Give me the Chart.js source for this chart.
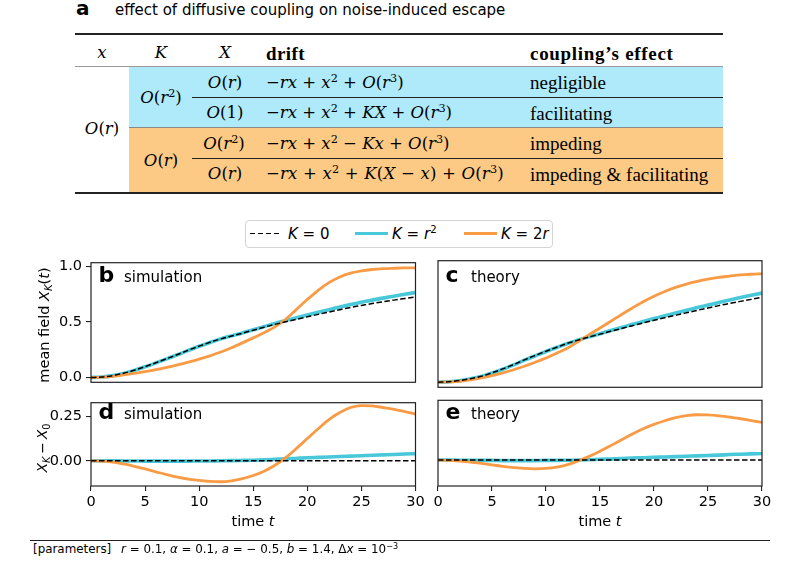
<!DOCTYPE html>
<html>
<head>
<meta charset="utf-8">
<script src="https://cdn.jsdelivr.net/npm/chart.js@4.4.1/dist/chart.umd.min.js"></script>
<style>
  html,body{margin:0;padding:0;background:#fff;}
  #fig{position:relative;width:798px;height:570px;overflow:hidden;background:#fff;}
  canvas{position:absolute;}
  .t{position:absolute;white-space:nowrap;line-height:1;color:#000;}
  .l{transform:translateY(-50%);}
  .c{transform:translate(-50%,-50%);}
  .sans{font-family:"DejaVu Sans",sans-serif;}
  .rm{font-family:"Liberation Serif",serif;font-size:19px;}
  .m{font-family:"DejaVu Serif",serif;font-size:16.5px;}
  sup{font-size:0.68em;vertical-align:0.5em;line-height:0;}
  sub{font-size:0.7em;vertical-align:-0.28em;line-height:0;}
  .rule{position:absolute;}
  .rot{transform:translate(-50%,-50%) rotate(-90deg);}
</style>
</head>
<body>
<div id="fig">
  <!-- panel a : table -->
  <div class="t sans" style="left:76px;top:-2px;font-size:20px;font-weight:bold;">a</div>
  <div class="t sans" style="left:115px;top:2.5px;font-size:15px;">effect of diffusive coupling on noise-induced escape</div>

  <div class="rule" style="left:129px;top:67px;width:594px;height:61px;background:#aeeaf9;"></div>
  <div class="rule" style="left:129px;top:128px;width:594px;height:64px;background:#fdca86;"></div>
  <div class="rule" style="left:75px;top:33.3px;width:648px;height:2px;background:#222;"></div>
  <div class="rule" style="left:75px;top:66px;width:648px;height:1.3px;background:#999;"></div>
  <div class="rule" style="left:192px;top:97.2px;width:531px;height:1px;background:#222;"></div>
  <div class="rule" style="left:129px;top:127.3px;width:594px;height:1px;background:#888;"></div>
  <div class="rule" style="left:192px;top:157.8px;width:531px;height:1px;background:#222;"></div>
  <div class="rule" style="left:75px;top:191.5px;width:648px;height:2px;background:#222;"></div>

  <div class="t c m" style="left:102px;top:53px;"><i>x</i></div>
  <div class="t c m" style="left:161px;top:53px;"><i>K</i></div>
  <div class="t c m" style="left:225px;top:53px;"><i>X</i></div>
  <div class="t l rm" style="left:266px;top:53px;font-weight:bold;letter-spacing:0.4px;">drift</div>
  <div class="t l rm" style="left:530px;top:53px;font-weight:bold;letter-spacing:0.7px;">coupling’s effect</div>

  <div class="t c m" style="left:102px;top:129px;"><i>O</i>(<i>r</i>)</div>
  <div class="t c m" style="left:161px;top:98px;"><i>O</i>(<i>r</i><sup>2</sup>)</div>
  <div class="t c m" style="left:161px;top:160.5px;"><i>O</i>(<i>r</i>)</div>

  <div class="t c m" style="left:225px;top:83px;"><i>O</i>(<i>r</i>)</div>
  <div class="t c m" style="left:225px;top:113px;"><i>O</i>(1)</div>
  <div class="t c m" style="left:224px;top:143.5px;"><i>O</i>(<i>r</i><sup>2</sup>)</div>
  <div class="t c m" style="left:225px;top:174px;"><i>O</i>(<i>r</i>)</div>

  <div class="t l m" style="left:266px;top:83px;">−<i>rx</i> + <i>x</i><sup>2</sup> + <i>O</i>(<i>r</i><sup>3</sup>)</div>
  <div class="t l m" style="left:266px;top:113px;">−<i>rx</i> + <i>x</i><sup>2</sup> + <i>KX</i> + <i>O</i>(<i>r</i><sup>3</sup>)</div>
  <div class="t l m" style="left:266px;top:143.5px;">−<i>rx</i> + <i>x</i><sup>2</sup> − <i>Kx</i> + <i>O</i>(<i>r</i><sup>3</sup>)</div>
  <div class="t l m" style="left:266px;top:174px;letter-spacing:0.2px;">−<i>rx</i> + <i>x</i><sup>2</sup> + <i>K</i>(<i>X</i> − <i>x</i>) + <i>O</i>(<i>r</i><sup>3</sup>)</div>

  <div class="t l rm" style="left:530px;top:82px;">negligible</div>
  <div class="t l rm" style="left:530px;top:112.5px;">facilitating</div>
  <div class="t l rm" style="left:530px;top:143px;">impeding</div>
  <div class="t l rm" style="left:530px;top:173.5px;">impeding &amp; facilitating</div>

  <!-- legend -->
  <div class="rule" style="left:245px;top:220px;width:306px;height:26px;border:1px solid #d4d4d4;border-radius:4px;background:#fff;"></div>
  <div class="rule" style="left:250px;top:232.5px;width:31px;height:1.6px;background:repeating-linear-gradient(90deg,#000 0 5.5px,transparent 5.5px 8px);"></div>
  <div class="rule" style="left:355px;top:231.6px;width:33px;height:3.4px;background:#48c8d8;"></div>
  <div class="rule" style="left:464px;top:231.8px;width:33px;height:3px;background:#f99b45;"></div>
  <div class="t l sans" style="left:288px;top:233.5px;font-size:15px;"><i>K</i> = 0</div>
  <div class="t l sans" style="left:392px;top:233.5px;font-size:15px;"><i>K</i> = <i>r</i><sup>2</sup></div>
  <div class="t l sans" style="left:501px;top:233.5px;font-size:15px;"><i>K</i> = 2<i>r</i></div>

  <canvas id="cb" width="430" height="145" style="left:0;top:250px;width:430px;height:145px;"></canvas>
  <canvas id="cc" width="368" height="145" style="left:430px;top:250px;width:368px;height:145px;"></canvas>
  <canvas id="cd" width="430" height="150" style="left:0;top:390px;width:430px;height:150px;"></canvas>
  <canvas id="ce" width="368" height="150" style="left:430px;top:390px;width:368px;height:150px;"></canvas>

  <!-- panel labels -->
  <div class="t sans" style="left:98.5px;top:263.5px;font-size:22px;font-weight:bold;">b</div>
  <div class="t sans" style="left:124px;top:269.5px;font-size:15px;">simulation</div>
  <div class="t sans" style="left:445.5px;top:263.5px;font-size:22px;font-weight:bold;">c</div>
  <div class="t sans" style="left:471px;top:269.5px;font-size:15px;">theory</div>
  <div class="t sans" style="left:98.5px;top:401px;font-size:22px;font-weight:bold;">d</div>
  <div class="t sans" style="left:124px;top:407px;font-size:15px;">simulation</div>
  <div class="t sans" style="left:445.5px;top:401px;font-size:22px;font-weight:bold;">e</div>
  <div class="t sans" style="left:471px;top:407px;font-size:15px;">theory</div>

  <!-- axis titles -->
  <div class="t sans rot" style="left:44px;top:325px;font-size:14.5px;">mean field <i>X</i><sub><i>K</i></sub>(<i>t</i>)</div>
  <div class="t sans rot" style="left:41.5px;top:447.5px;font-size:14px;"><i>X</i><sub><i>K</i></sub>&#8201;−&#8201;<i>X</i><sub>0</sub></div>
  <div class="t c sans" style="left:253px;top:521px;font-size:14.5px;">time <i>t</i></div>
  <div class="t c sans" style="left:600px;top:521px;font-size:14.5px;">time <i>t</i></div>

  <!-- footer -->
  <div class="rule" style="left:30px;top:540px;width:740px;height:1px;background:#222;"></div>
  <div class="t l sans" style="left:33px;top:549.5px;font-size:11.9px;">[parameters]</div>
  <div class="t l sans" style="left:121px;top:549.5px;font-size:11.9px;"><i>r</i> = 0.1, <i>α</i> = 0.1, <i>a</i> = − 0.5, <i>b</i> = 1.4, Δ<i>x</i> = 10<sup>−3</sup></div>
</div>

<script>
// ---------------- data ----------------
const time = [0,1,2,3,4,5,6,7,8,9,10,11,12,13,14,15,16,17,18,19,20,21,22,23,24,25,26,27,28,29,30];

// panel b : simulation, mean field X_K(t)
const simK0  = [0,0.004,0.017,0.038,0.065,0.098,0.133,0.169,0.206,0.245,0.282,0.316,0.347,0.373,0.398,0.425,0.452,0.477,0.500,0.523,0.545,0.567,0.588,0.609,0.630,0.647,0.664,0.680,0.695,0.709,0.723];
const simKr2 = [0,0.004,0.017,0.037,0.064,0.096,0.131,0.167,0.204,0.243,0.281,0.315,0.347,0.374,0.400,0.428,0.457,0.485,0.511,0.537,0.562,0.586,0.609,0.633,0.656,0.675,0.695,0.713,0.730,0.747,0.763];
const simK2r = [0,0.004,0.011,0.024,0.038,0.053,0.070,0.090,0.113,0.138,0.165,0.195,0.229,0.268,0.311,0.356,0.402,0.455,0.522,0.612,0.700,0.783,0.852,0.903,0.937,0.958,0.970,0.977,0.981,0.984,0.985];

// panel c : theory, mean field X_K(t)
const thK0  = [0,0.004,0.014,0.030,0.050,0.080,0.113,0.150,0.190,0.227,0.263,0.297,0.330,0.358,0.384,0.408,0.432,0.456,0.480,0.503,0.525,0.547,0.568,0.589,0.610,0.630,0.650,0.668,0.686,0.703,0.720];
const thKr2 = [0,0.004,0.013,0.029,0.048,0.078,0.110,0.147,0.187,0.224,0.261,0.295,0.329,0.358,0.386,0.412,0.438,0.464,0.491,0.516,0.540,0.564,0.587,0.610,0.633,0.655,0.677,0.698,0.718,0.737,0.756];
const thK2r = [0,0.003,0.008,0.020,0.037,0.057,0.080,0.106,0.136,0.170,0.206,0.247,0.290,0.345,0.404,0.460,0.517,0.575,0.630,0.683,0.730,0.770,0.805,0.833,0.856,0.875,0.890,0.900,0.910,0.916,0.920];

// panel d : simulation, X_K - X_0
const simDiffK0  = [0,0,0,0,0,0,0,0,0,0,0,0,0,0,0,0,0,0,0,0,0,0,0,0,0,0,0,0,0,0,0];
const simDiffKr2 = [0,0,0,-0.001,-0.001,-0.002,-0.002,-0.002,-0.002,-0.002,-0.001,-0.001,0,0.001,0.002,0.003,0.005,0.008,0.011,0.014,0.017,0.019,0.021,0.024,0.026,0.028,0.031,0.033,0.035,0.038,0.040];
const simDiffK2r = [0,-0.002,-0.007,-0.018,-0.031,-0.046,-0.062,-0.078,-0.092,-0.103,-0.110,-0.116,-0.118,-0.113,-0.101,-0.083,-0.059,-0.025,0.018,0.070,0.125,0.180,0.232,0.272,0.300,0.311,0.309,0.300,0.290,0.277,0.263];

// panel e : theory, X_K - X_0
const thDiffK0  = [0,0,0,0,0,0,0,0,0,0,0,0,0,0,0,0,0,0,0,0,0,0,0,0,0,0,0,0,0,0,0];
const thDiffKr2 = [0,0,-0.001,-0.001,-0.002,-0.002,-0.003,-0.003,-0.003,-0.003,-0.002,-0.002,-0.001,0,0.002,0.004,0.006,0.008,0.011,0.013,0.015,0.017,0.019,0.021,0.023,0.025,0.027,0.030,0.032,0.034,0.036];
const thDiffK2r = [0,-0.002,-0.006,-0.011,-0.018,-0.026,-0.035,-0.041,-0.046,-0.048,-0.046,-0.039,-0.025,-0.004,0.020,0.048,0.079,0.111,0.143,0.171,0.195,0.215,0.232,0.243,0.248,0.247,0.242,0.235,0.226,0.216,0.206];

// ticks
const xTickValues = [0,5,10,15,20,25,30];
const xTickLabels = ['0','5','10','15','20','25','30'];
const yTopTickValues = [0,0.5,1.0];
const yTopTickLabels = ['0.0','0.5','1.0'];
const yBotTickValues = [0,0.25];
const yBotTickLabels = ['0.00','0.25'];
const seriesLabels = ['K = 0','K = r²','K = 2r'];

// ---------------- styling ----------------
const CYAN = '#48c8d8', ORANGE = '#f99b45', BLACK = '#000000', SPINE = '#222222';
const TICKFONT = {family:'DejaVu Sans', size:14.5};

const frame = {
  id:'frame',
  afterDraw(chart){
    const a = chart.chartArea, ctx = chart.ctx;
    ctx.save();
    ctx.strokeStyle = SPINE; ctx.lineWidth = 1.2;
    ctx.strokeRect(a.left, a.top, a.right - a.left, a.bottom - a.top);
    ctx.restore();
  }
};

function pts(ys){ return time.map((t,i)=>({x:t, y:ys[i]})); }

function makeChart(id, series, o){
  const ds = [
    {label:seriesLabels[0], data:pts(series[0]), borderColor:BLACK, borderWidth:1.5, borderDash:[5.5,2.5], order:0},
    {label:seriesLabels[1], data:pts(series[1]), borderColor:CYAN, borderWidth:3.6, order:2},
    {label:seriesLabels[2], data:pts(series[2]), borderColor:ORANGE, borderWidth:2.8, order:1}
  ];
  ds.forEach(d=>{ d.pointRadius=0; d.fill=false; d.cubicInterpolationMode='monotone'; });
  return new Chart(document.getElementById(id), {
    type:'line',
    data:{datasets:ds},
    options:{
      responsive:false, animation:false,
      layout:{padding:o.pad},
      plugins:{legend:{display:false}, tooltip:{enabled:false}},
      scales:{
        x:{
          type:'linear', min:0, max:30, display:o.showX,
          afterBuildTicks:s=>{ s.ticks = xTickValues.map(v=>({value:v})); },
          afterFit:s=>{ s.height = o.showX ? 54 : 0; },
          ticks:{callback:(v,i)=>xTickLabels[i], color:'#000', font:TICKFONT, padding:3, maxRotation:0},
          grid:{drawOnChartArea:false, drawTicks:true, tickLength:5, color:SPINE, lineWidth:1.1},
          border:{display:false}
        },
        y:{
          type:'linear', min:o.ymin, max:o.ymax, display:o.showY,
          afterBuildTicks:s=>{ s.ticks = o.yvals.map(v=>({value:v})); },
          afterFit:s=>{ s.width = o.showY ? 91 : 0; },
          ticks:{callback:(v,i)=>o.ylabs[i], color:'#000', font:TICKFONT, padding:4},
          grid:{drawOnChartArea:false, drawTicks:true, tickLength:5, color:SPINE, lineWidth:1.1},
          border:{display:false}
        }
      }
    },
    plugins:[frame]
  });
}

makeChart('cb', [simK0, simKr2, simK2r], {pad:{left:0,top:10.7,right:14.5,bottom:7.7}, showX:false, showY:true, ymin:-0.043, ymax:1.031, yvals:yTopTickValues, ylabs:yTopTickLabels});
makeChart('cc', [thK0, thKr2, thK2r],   {pad:{left:8,top:10.7,right:36,bottom:7.7}, showX:false, showY:false, ymin:-0.043, ymax:1.031, yvals:yTopTickValues, ylabs:yTopTickLabels});
makeChart('cd', [simDiffK0, simDiffKr2, simDiffK2r], {pad:{left:0,top:10.3,right:14.5,bottom:0}, showX:true, showY:true, ymin:-0.142, ymax:0.327, yvals:yBotTickValues, ylabs:yBotTickLabels});
makeChart('ce', [thDiffK0, thDiffKr2, thDiffK2r],   {pad:{left:8,top:10.3,right:36,bottom:0}, showX:true, showY:false, ymin:-0.142, ymax:0.327, yvals:yBotTickValues, ylabs:yBotTickLabels});
</script>
</body>
</html>
